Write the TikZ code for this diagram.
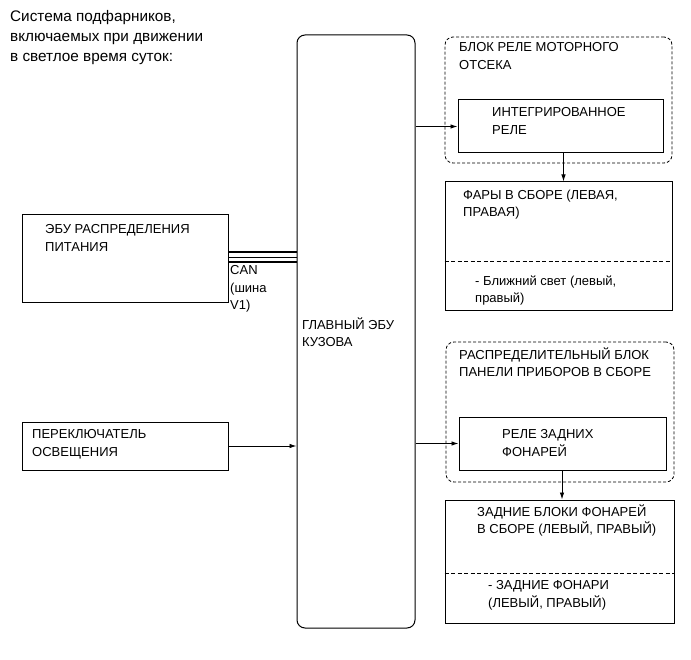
\documentclass[tikz,border=0pt]{standalone}
\usepackage{fontspec}
\setmainfont{Liberation Sans}
\usetikzlibrary{arrows.meta,fit}

\begin{document}
\begin{tikzpicture}[x=1pt, y=-1pt, >={Latex[length=7pt,width=4.5pt]},
    box/.style={draw, line width=1pt, inner sep=0pt},
    grp/.style={draw, line width=0.8pt, dash pattern=on 3pt off 2pt, rounded corners=8pt, inner sep=0pt},
    txt/.style={anchor=north west, inner sep=0pt, align=left, yshift=2.5pt,
        font=\fontsize{13}{17.5}\selectfont, execute at begin node=\strut},
    ttl/.style={anchor=north west, inner sep=0pt, align=left, yshift=2.9pt,
        font=\fontsize{15.3}{20}\selectfont, execute at begin node=\strut},
    wire/.style={->, line width=0.9pt},
    divider/.style={line width=0.7pt, dash pattern=on 4pt off 2.5pt}]
    \useasboundingbox (0,0) rectangle (691,660);

    % Draw title
    \node[ttl] (title) at (10,13) {Система подфарников,\\включаемых при движении\\в светлое время суток:};

    % Draw main body ECU
    \node[box, rounded corners=8pt, fit={(297,35) (415,628)}] (main) {};
    \node[txt] (mainT) at (302,320) {ГЛАВНЫЙ ЭБУ\\КУЗОВА};

    % Draw left side units
    \node[box, fit={(22,215) (228,303)}] (pdu) {};
    \node[txt] (pduT) at (45,227) {ЭБУ РАСПРЕДЕЛЕНИЯ\\ПИТАНИЯ};
    \node[box, fit={(22,422) (228,470)}] (sw) {};
    \node[txt] (swT) at (32,432) {ПЕРЕКЛЮЧАТЕЛЬ\\ОСВЕЩЕНИЯ};

    % Draw engine room relay block
    \node[grp, fit={(445,37) (672,163)}] (erb) {};
    \node[txt] (erbT) at (459,45) {БЛОК РЕЛЕ МОТОРНОГО\\ОТСЕКА};
    \node[box, fit={(458,100) (663,153)}] (irel) {};
    \node[txt] (irelT) at (492,110) {ИНТЕГРИРОВАННОЕ\\РЕЛЕ};

    % Draw headlamps
    \node[box, fit={(445,182) (672,311)}] (head) {};
    \node[txt] (headT) at (463,192) {ФАРЫ В СБОРЕ (ЛЕВАЯ,\\ПРАВАЯ)};
    \node[txt] (lowT) at (475,278) {- Ближний свет (левый,\\правый)};
    \draw[divider] ([yshift=-14.5pt]head.west) -- ([yshift=-14.5pt]head.east);

    % Draw instrument panel junction block
    \node[grp, fit={(446,342) (674,482)}] (ipj) {};
    \node[txt] (ipjT) at (459,350) {РАСПРЕДЕЛИТЕЛЬНЫЙ БЛОК\\ПАНЕЛИ ПРИБОРОВ В СБОРЕ};
    \node[box, fit={(459,417) (666,470)}] (trel) {};
    \node[txt] (trelT) at (502,432) {РЕЛЕ ЗАДНИХ\\ФОНАРЕЙ};

    % Draw rear combination lamps
    \node[box, fit={(445,500) (674,623)}] (tail) {};
    \node[txt] (tailT) at (477,507) {ЗАДНИЕ БЛОКИ ФОНАРЕЙ\\В СБОРЕ (ЛЕВЫЙ, ПРАВЫЙ)};
    \node[txt] (rearT) at (488,583) {- ЗАДНИЕ ФОНАРИ\\(ЛЕВЫЙ, ПРАВЫЙ)};
    \draw[divider] ([yshift=-11.5pt]tail.west) -- ([yshift=-11.5pt]tail.east);

    % Draw CAN bus
    \foreach \dy/\lw in {7/2.6, 2/0.7, -3/2.6}
        \draw[line width=\lw pt] ([yshift=\dy pt]pdu.east) coordinate (c) -- (c -| main.west);
    \node[txt] (canT) at (230,268) {CAN\\(шина\\V1)};

    % Draw signal wires
    \draw[wire] (sw.east) -- (sw.east -| main.west);
    \draw[wire] (irel.west -| main.east) -- (irel.west);
    \draw[wire] (trel.west -| main.east) -- (trel.west);
    \draw[wire] ([xshift=3pt]irel.south) -- ([xshift=3pt]irel.south |- head.north);
    \draw[wire] ([xshift=-0.5pt]trel.south) -- ([xshift=-0.5pt]trel.south |- tail.north);
\end{tikzpicture}
\end{document}
